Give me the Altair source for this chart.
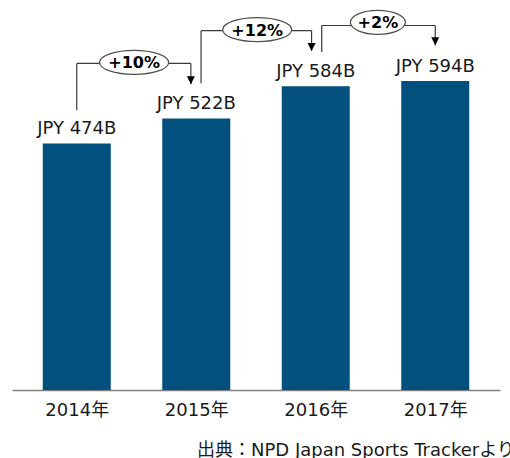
import json
import altair as alt
import pandas as pd

# ---- data ----
years = ["2014年", "2015年", "2016年", "2017年"]
sales_b = [474, 522, 584, 594]
bar_labels = [f"JPY {v}B" for v in sales_b]

growth_labels = ["+10%", "+12%", "+2%"]
link_from_x = [0.0, 1.04, 2.05]      # where each growth connector leaves (category index units)
link_to_x = [0.955, 1.965, 3.0]      # where its arrow lands
link_start_y = [538, 590, 650]       # bottom of the leaving line (value units)
link_level_y = [628, 691, 701]       # height of the horizontal connector
arrow_tip_y = [588, 652, 663]        # arrow tip height
badge_x = [0.48, 1.51, 2.52]
badge_y = [630, 693, 707]

source_note = "出典：NPD Japan Sports Trackerより"

FONT = "DejaVu Sans, Noto Sans CJK JP"
BAR_COLOR = "#02507D"
LINE_COLOR = "#3a3a3a"
TEXT_COLOR = "#1a1a1a"
BADGE_H = 24.0


def ellipse_path(width):
    """Unit ellipse (width 2 in symbol units) drawn with cubic Beziers."""
    h = BADGE_H / width
    k = 0.5523
    kh = k * h
    return (f"M -1 0 C -1 {-kh:.4f} {-k} {-h:.4f} 0 {-h:.4f} "
            f"C {k} {-h:.4f} 1 {-kh:.4f} 1 0 "
            f"C 1 {kh:.4f} {k} {h:.4f} 0 {h:.4f} "
            f"C {-k} {h:.4f} -1 {kh:.4f} -1 0 Z")


badge_w = [13 + 14 * len(g) for g in growth_labels]

bars_df = pd.DataFrame({"idx": list(range(len(years))), "year": years,
                        "sales": sales_b, "label": bar_labels})
links_df = pd.DataFrame({"from_x": link_from_x, "to_x": link_to_x,
                         "start_y": link_start_y, "level_y": link_level_y,
                         "tip_y": arrow_tip_y, "bx": badge_x, "by": badge_y,
                         "growth": growth_labels,
                         "esize": [w * w for w in badge_w],
                         "epath": [ellipse_path(w) for w in badge_w]})
note_df = pd.DataFrame({"note": [source_note]})

xs = alt.Scale(domain=[-0.5, 3.5], nice=False, zero=False)
ys = alt.Scale(domain=[0, 750], nice=False, zero=True)

label_expr = json.dumps(years, ensure_ascii=False) + "[datum.value]"
xaxis = alt.Axis(
    values=[0, 1, 2, 3], labelExpr=label_expr, title=None, grid=False,
    ticks=False, domainColor="#808080", domainWidth=1.5,
    labelFontSize=18, labelFont=FONT, labelColor=TEXT_COLOR,
    labelPadding=11, labelFlush=False, labelOverlap=False)


def X(field):
    return alt.X(field, scale=xs, axis=xaxis, title=None)


def Y(field):
    return alt.Y(field, scale=ys, axis=None)


bars = alt.Chart(bars_df).mark_bar(size=68, color=BAR_COLOR).encode(
    x=X("idx:Q"), y=Y("sales:Q"))

bar_text = alt.Chart(bars_df).mark_text(
    baseline="alphabetic", dy=-9.5, fontSize=18, font=FONT, color=TEXT_COLOR
).encode(x=X("idx:Q"), y=Y("sales:Q"), text="label:N")

rule_kw = dict(color=LINE_COLOR, strokeWidth=1.2)
up_lines = alt.Chart(links_df).mark_rule(**rule_kw).encode(
    x=X("from_x:Q"), y=Y("start_y:Q"), y2="level_y:Q")
across_lines = alt.Chart(links_df).mark_rule(**rule_kw).encode(
    x=X("from_x:Q"), x2="to_x:Q", y=Y("level_y:Q"))
down_lines = alt.Chart(links_df).mark_rule(**rule_kw).encode(
    x=X("to_x:Q"), y=Y("level_y:Q"), y2="tip_y:Q")
arrows = alt.Chart(links_df).mark_point(
    shape="M -1 -1 L 1 -1 L 0 1 Z", size=64, filled=True, color="#000000",
    opacity=1, yOffset=-4
).encode(x=X("to_x:Q"), y=Y("tip_y:Q"))

badges = alt.Chart(links_df).mark_point(
    filled=True, fill="white", fillOpacity=1, stroke="#505050",
    strokeWidth=1.2, opacity=1
).encode(
    x=X("bx:Q"), y=Y("by:Q"),
    shape=alt.Shape("epath:N", scale=None, legend=None),
    size=alt.Size("esize:Q", scale=None, legend=None),
)

badge_text = alt.Chart(links_df).mark_text(
    fontWeight="bold", fontSize=16, font=FONT, color="#000000",
    baseline="middle", dy=1
).encode(x=X("bx:Q"), y=Y("by:Q"), text="growth:N")

note = alt.Chart(note_df).mark_text(
    align="left", baseline="alphabetic", fontSize=18, font=FONT, color=TEXT_COLOR
).encode(x=alt.value(185), y=alt.value(456), text="note:N")

chart = alt.layer(
    bars, bar_text, up_lines, across_lines, down_lines, arrows, badges,
    badge_text, note
).properties(
    width=488, height=390,
    background="white",
    autosize=alt.AutoSizeParams(type="none"),
    padding={"left": 12, "top": 0, "right": 10, "bottom": 68},
).configure_view(strokeWidth=0, stroke="transparent")

chart.save("out.html", embed_options={"renderer": "svg", "actions": False})
